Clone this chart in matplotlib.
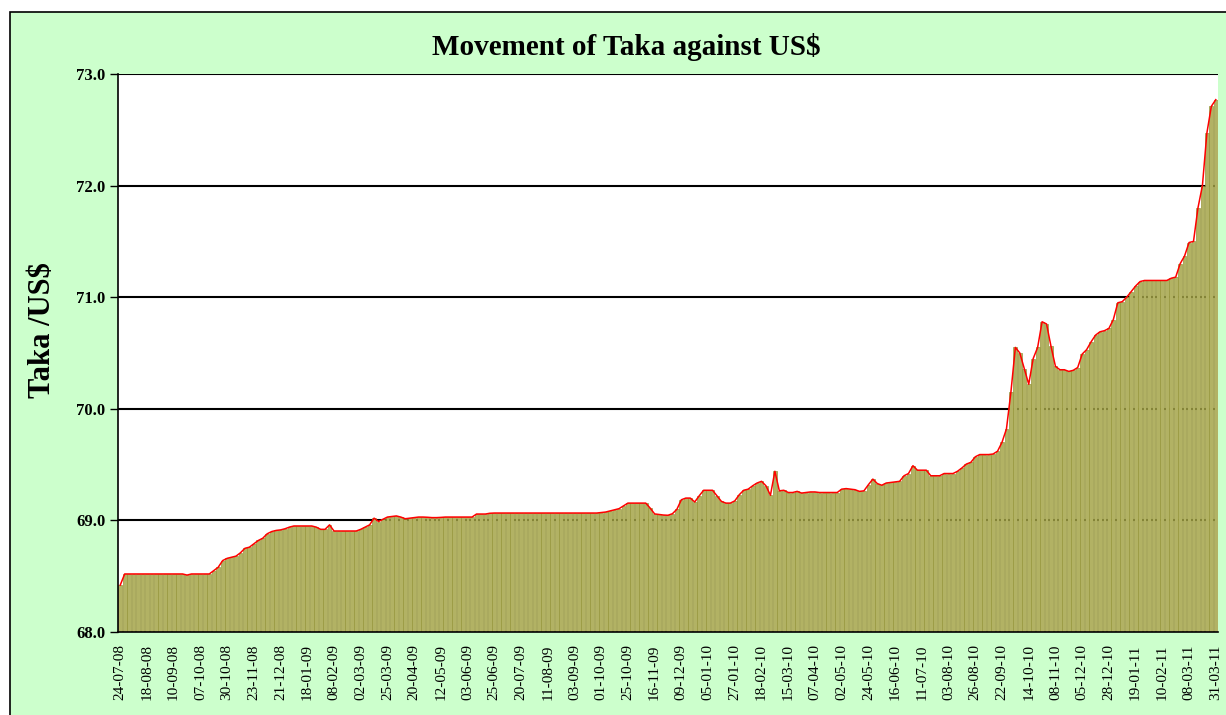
# -*- coding: utf-8 -*-
import matplotlib
matplotlib.use('Agg')
import matplotlib.pyplot as plt
from matplotlib.patches import Rectangle
import numpy as np

# tick labels (one every 6 readings)
tick_dates = ['24-07-08', '18-08-08', '10-09-08', '07-10-08', '30-10-08', '23-11-08',
              '21-12-08', '18-01-09', '08-02-09', '02-03-09', '25-03-09', '20-04-09',
              '12-05-09', '03-06-09', '25-06-09', '20-07-09', '11-08-09', '03-09-09',
              '01-10-09', '25-10-09', '16-11-09', '09-12-09', '05-01-10', '27-01-10',
              '18-02-10', '15-03-10', '07-04-10', '02-05-10', '24-05-10', '16-06-10',
              '11-07-10', '03-08-10', '26-08-10', '22-09-10', '14-10-10', '08-11-10',
              '05-12-10', '28-12-10', '19-01-11', '10-02-11', '08-03-11', '31-03-11']

# Taka per US$, six readings per label interval
rate = [
    68.42, 68.52, 68.52, 68.52, 68.52, 68.52,
    68.52, 68.52, 68.52, 68.52, 68.52, 68.52,
    68.52, 68.52, 68.52, 68.51, 68.52, 68.52,
    68.52, 68.52, 68.52, 68.55, 68.58, 68.64,
    68.66, 68.67, 68.68, 68.71, 68.75, 68.76,
    68.79, 68.82, 68.84, 68.88, 68.90, 68.91,
    68.915, 68.925, 68.94, 68.95, 68.95, 68.95,
    68.95, 68.95, 68.94, 68.92, 68.92, 68.96,
    68.905, 68.905, 68.905, 68.905, 68.905, 68.905,
    68.92, 68.94, 68.96, 69.02, 68.99, 69.01,
    69.03, 69.035, 69.04, 69.03, 69.015, 69.02,
    69.025, 69.03, 69.03, 69.028, 69.025, 69.025,
    69.027, 69.03, 69.03, 69.03, 69.03, 69.03,
    69.03, 69.03, 69.057, 69.057, 69.057, 69.064,
    69.066, 69.066, 69.066, 69.066, 69.066, 69.066,
    69.066, 69.066, 69.066, 69.066, 69.066, 69.066,
    69.066, 69.066, 69.066, 69.066, 69.066, 69.066,
    69.066, 69.066, 69.066, 69.066, 69.066, 69.066,
    69.07, 69.075, 69.085, 69.095, 69.105, 69.13,
    69.155, 69.155, 69.155, 69.155, 69.155, 69.11,
    69.058, 69.053, 69.048, 69.046, 69.06, 69.10,
    69.185, 69.20, 69.20, 69.165, 69.22, 69.27,
    69.27, 69.27, 69.22, 69.17, 69.155, 69.155,
    69.175, 69.23, 69.27, 69.28, 69.31, 69.335,
    69.35, 69.31, 69.225, 69.44, 69.265, 69.27,
    69.25, 69.25, 69.26, 69.245, 69.25, 69.255,
    69.255, 69.25, 69.25, 69.25, 69.25, 69.25,
    69.28, 69.285, 69.28, 69.275, 69.26, 69.265,
    69.32, 69.37, 69.33, 69.315, 69.335, 69.34,
    69.345, 69.35, 69.40, 69.42, 69.49, 69.45,
    69.45, 69.45, 69.40, 69.40, 69.40, 69.42,
    69.42, 69.42, 69.44, 69.47, 69.505, 69.52,
    69.57, 69.59, 69.59, 69.59, 69.595, 69.62,
    69.70, 69.82, 70.15, 70.55, 70.50, 70.36,
    70.22, 70.45, 70.55, 70.78, 70.76, 70.56,
    70.38, 70.35, 70.35, 70.335, 70.345, 70.37,
    70.49, 70.53, 70.60, 70.66, 70.69, 70.70,
    70.72, 70.80, 70.95, 70.96, 71.00, 71.05,
    71.10, 71.14, 71.15, 71.15, 71.15, 71.15,
    71.15, 71.15, 71.17, 71.18, 71.30, 71.37,
    71.49, 71.50, 71.80, 72.00, 72.47, 72.71,
    72.77,
]

per_label = 6
x = np.arange(len(rate))

fig = plt.figure(figsize=(12.26, 7.15), dpi=100)
fig.patch.set_facecolor('white')
# green chart area with black frame
fig.patches.append(Rectangle((10 / 1226, -0.01), 1.0, (715 - 12) / 715 + 0.01,
                             transform=fig.transFigure, facecolor='#CCFFCC',
                             edgecolor='black', linewidth=1.2, zorder=-10))

ax = fig.add_axes([118 / 1226, (715 - 632) / 715, 1100 / 1226, 558 / 715])
ax.set_zorder(5)
ax.set_facecolor('white')
ax.set_axisbelow(True)
ax.yaxis.grid(True, color='black', linewidth=1.5)

ax.bar(x, np.array(rate) - 68.0, bottom=68.0, width=0.85, color='#B2B264',
       edgecolor='#97973C', linewidth=0.5, zorder=2)
ax.plot(x, rate, color='red', linewidth=1.1, zorder=3)

ax.set_ylim(68.0, 73.0)
ax.set_xlim(-0.5, len(rate) - 0.5)
ax.set_yticks(np.arange(68.0, 73.01, 1.0))
ax.set_yticklabels(['%.1f' % v for v in np.arange(68.0, 73.01, 1.0)],
                   fontfamily='Liberation Serif', fontweight='bold', fontsize=12)
ax.set_xticks(x[::per_label])
ax.set_xticklabels(tick_dates, rotation=90, fontfamily='Liberation Serif', fontsize=11)
ax.tick_params(axis='y', length=6, width=1, pad=3)
ax.tick_params(axis='x', length=0, pad=9)

ax.spines['top'].set_visible(False)
ax.spines['right'].set_visible(False)
ax.spines['left'].set_linewidth(1.2)
ax.spines['bottom'].set_linewidth(1.2)

fig.text(42 / 1226, 1 - 330 / 715, 'Taka /US$', rotation=90, ha='center', va='center',
         fontfamily='Liberation Serif', fontweight='bold', fontsize=22)
fig.text(626 / 1226, 1 - 47 / 715, 'Movement of Taka against US$', ha='center', va='center',
         fontfamily='Liberation Serif', fontweight='bold', fontsize=21)

plt.savefig('out.png', dpi=100)
